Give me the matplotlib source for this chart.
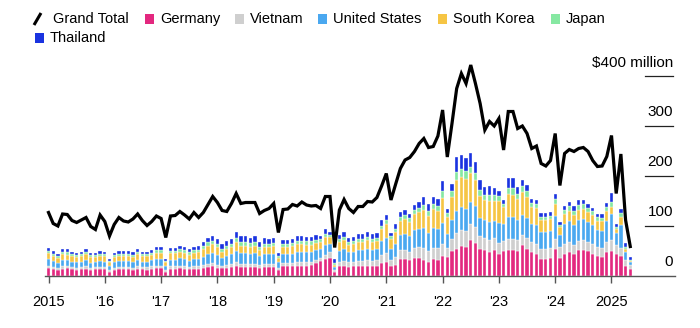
from __future__ import annotations

import matplotlib

matplotlib.use("Agg")
import matplotlib.pyplot as plt
import matplotlib.transforms as mtransforms
from matplotlib.lines import Line2D
from matplotlib.patches import Rectangle
import numpy as np

plt.rcParams["font.family"] = ["Liberation Sans", "DejaVu Sans"]

# monthly values, Jan 2015 .. May 2025, $ million
START_YEAR = 2015

grand_total = [
    127, 105, 100, 124, 123, 111, 107, 112, 117, 99, 93, 122,
    109, 80, 103, 117, 110, 108, 114, 124, 111, 101, 109, 120,
    115, 77, 120, 121, 129, 122, 114, 127, 117, 127, 143, 159,
    147, 131, 129, 145, 165, 145, 147, 147, 147, 125, 131, 135,
    145, 87, 133, 134, 143, 140, 148, 142, 140, 141, 135, 159,
    159, 57, 132, 153, 135, 127, 139, 139, 149, 148, 157, 180,
    205, 152, 184, 215, 232, 237, 249, 265, 275, 257, 259, 280,
    332, 238, 305, 375, 405, 385, 422, 385, 345, 292, 309, 300,
    315, 252, 329, 329, 295, 300, 285, 255, 260, 225, 220, 231,
    285, 181, 245, 253, 249, 255, 257, 249, 231, 219, 220, 239,
    281, 165, 244, 112, 59,
]

germany = [
    16, 14, 12, 15, 16, 14, 13, 14, 15, 13, 14, 14,
    14, 9, 13, 14, 14, 14, 13, 15, 14, 13, 15, 16,
    16, 9, 15, 15, 16, 15, 14, 15, 15, 17, 19, 20,
    17, 16, 17, 18, 21, 19, 19, 19, 19, 17, 18, 18,
    19, 12, 20, 20, 20, 21, 21, 21, 22, 26, 30, 35,
    36, 9, 20, 21, 19, 20, 20, 20, 21, 20, 21, 27,
    28, 20, 23, 35, 35, 32, 37, 37, 33, 28, 34, 33,
    40, 38, 50, 55, 60, 58, 72, 66, 55, 52, 48, 52,
    45, 50, 53, 52, 50, 62, 55, 48, 45, 35, 35, 36,
    55, 37, 45, 48, 44, 52, 52, 50, 45, 40, 38, 48,
    50, 45, 40, 21, 14,
]

vietnam = [
    5, 5, 4, 5, 4, 4, 4, 5, 5, 4, 4, 5,
    4, 3, 4, 5, 4, 5, 4, 5, 4, 5, 5, 5,
    5, 3, 5, 5, 5, 5, 4, 5, 5, 5, 6, 6,
    6, 5, 6, 6, 7, 6, 6, 6, 6, 5, 6, 6,
    6, 4, 7, 6, 6, 7, 7, 7, 7, 7, 7, 8,
    12, 4, 9, 10, 9, 9, 10, 10, 11, 10, 11, 15,
    18, 13, 15, 17, 18, 17, 20, 21, 23, 22, 23, 23,
    25, 18, 25, 32, 33, 32, 33, 32, 26, 25, 25, 24,
    22, 20, 22, 22, 22, 20, 22, 20, 20, 20, 20, 20,
    20, 22, 19, 20, 19, 19, 20, 19, 19, 18, 18, 20,
    22, 17, 17, 11, 8,
]

united_states = [
    13, 11, 10, 12, 12, 11, 11, 10, 12, 10, 10, 11,
    11, 8, 11, 11, 12, 11, 11, 12, 11, 11, 12, 13,
    13, 8, 13, 13, 15, 14, 13, 14, 14, 17, 19, 20,
    20, 16, 18, 20, 23, 21, 21, 20, 21, 18, 20, 20,
    20, 12, 18, 19, 19, 21, 21, 20, 20, 20, 18, 20,
    16, 6, 22, 23, 20, 20, 22, 22, 23, 22, 22, 28,
    31, 22, 27, 31, 32, 31, 35, 37, 40, 37, 40, 39,
    42, 29, 38, 44, 45, 45, 44, 42, 36, 35, 36, 35,
    40, 35, 44, 44, 40, 40, 40, 36, 37, 34, 34, 35,
    45, 23, 40, 42, 40, 41, 42, 40, 38, 35, 35, 42,
    53, 25, 45, 17, 6,
]

south_korea = [
    12, 11, 10, 12, 11, 11, 10, 11, 12, 11, 10, 11,
    11, 8, 10, 11, 11, 11, 11, 12, 11, 11, 11, 13,
    13, 8, 13, 13, 13, 13, 12, 13, 14, 15, 17, 18,
    15, 12, 14, 14, 17, 15, 15, 14, 15, 13, 14, 14,
    15, 9, 14, 14, 15, 15, 15, 15, 14, 14, 13, 15,
    14, 4, 17, 18, 15, 16, 17, 17, 18, 17, 17, 24,
    27, 19, 23, 28, 29, 28, 32, 34, 37, 34, 37, 36,
    50, 33, 45, 61, 60, 59, 57, 53, 44, 40, 42, 40,
    43, 33, 45, 45, 42, 47, 42, 34, 34, 23, 23, 23,
    25, 17, 20, 21, 20, 20, 21, 20, 20, 18, 19, 21,
    14, 8, 17, 6, 2,
]

japan = [
    5, 4, 4, 4, 5, 4, 4, 4, 4, 4, 4, 4,
    4, 3, 4, 4, 4, 4, 4, 5, 4, 4, 4, 5,
    5, 3, 5, 5, 5, 5, 5, 5, 5, 6, 7, 7,
    7, 6, 6, 7, 8, 7, 7, 7, 7, 6, 7, 7,
    6, 4, 6, 6, 6, 7, 7, 7, 7, 6, 6, 6,
    5, 4, 6, 6, 5, 6, 6, 6, 6, 6, 6, 7,
    8, 6, 7, 8, 8, 8, 8, 8, 10, 9, 10, 10,
    13, 8, 12, 17, 16, 16, 13, 13, 12, 11, 11, 11,
    10, 7, 12, 13, 11, 11, 11, 8, 8, 7, 7, 7,
    10, 4, 8, 9, 8, 10, 9, 8, 8, 7, 7, 8,
    10, 4, 8, 4, 2,
]

thailand = [
    6, 6, 4, 6, 6, 5, 5, 5, 6, 5, 5, 6,
    5, 4, 5, 5, 5, 5, 6, 6, 5, 5, 6, 6,
    6, 4, 6, 6, 7, 7, 6, 7, 7, 8, 8, 10,
    10, 9, 10, 10, 13, 12, 12, 11, 12, 9, 11, 10,
    10, 6, 8, 8, 9, 9, 9, 9, 9, 9, 7, 10,
    6, 7, 9, 10, 8, 8, 10, 10, 10, 10, 9, 11,
    10, 6, 9, 9, 10, 9, 10, 11, 15, 14, 14, 14,
    21, 9, 15, 30, 28, 27, 28, 23, 19, 16, 18, 15,
    11, 7, 20, 20, 14, 13, 12, 9, 9, 8, 8, 8,
    10, 6, 8, 9, 9, 10, 9, 8, 7, 6, 7, 8,
    17, 5, 8, 8, 6,
]

series_names = ["Germany", "Vietnam", "United States", "South Korea", "Japan", "Thailand"]
series_values = [germany, vietnam, united_states, south_korea, japan, thailand]
series_colors = ["#e3287f", "#cfcfcf", "#4aa8f0", "#f6c544", "#86e8a2", "#1a33e0"]

year_ticks = [2015, 2016, 2017, 2018, 2019, 2020, 2021, 2022, 2023, 2024, 2025]
year_labels = ["2015", "'16", "'17", "'18", "'19", "'20", "'21", "'22", "'23", "'24", "2025"]
value_ticks = [0, 100, 200, 300, 400]
value_labels = ["0", "100", "200", "300", "$400 million"]

W, H = 700, 328


def _fx(px):
    return px / W


def _fy(py):
    return 1 - py / H


def _draw_legend(fig):
    fs = 10.5
    # Grand Total: slash icon
    fig.add_artist(Line2D([_fx(34), _fx(41)], [_fy(25), _fy(13)], color="black",
                          lw=2.2, solid_capstyle="butt"))
    fig.text(_fx(53), _fy(19), "Grand Total", fontsize=fs, va="center", ha="left")
    slots = [(145, 19), (235, 19), (318, 19), (438, 19), (551, 19), (35, 38)]
    for name, color, (px, py) in zip(series_names, series_colors, slots):
        fig.add_artist(Rectangle((_fx(px), _fy(py + 4.5)), 9 / W, 9 / H,
                                 facecolor=color, edgecolor="none"))
        fig.text(_fx(px + 15), _fy(py), name, fontsize=fs, va="center", ha="left")


def main() -> None:
    months = np.arange(len(grand_total))
    x = START_YEAR + months / 12.0

    fig = plt.figure(figsize=(W / 100, H / 100), dpi=100)
    left, right, base, top = 45, 675, 276, 56
    ax = fig.add_axes([_fx(left), 1 - base / H, (right - left) / W, (base - top) / H])

    bottom = np.zeros(len(months))
    for vals, color in zip(series_values, series_colors):
        vals = np.asarray(vals, dtype=float)
        ax.bar(x, vals, width=0.7 / 12, bottom=bottom, color=color,
               edgecolor="white", linewidth=0.25, zorder=2)
        bottom += vals

    ax.plot(x, grand_total, color="black", lw=2.3, solid_joinstyle="miter", zorder=3)

    px_per_year = 56.3
    ax.set_xlim(START_YEAR - (48.5 - left) / px_per_year,
                START_YEAR + (right - 48.5) / px_per_year)
    ax.set_ylim(0, (base - top) * 2)

    for side in ("left", "right", "top"):
        ax.spines[side].set_visible(False)
    ax.spines["bottom"].set_color("#555555")
    ax.spines["bottom"].set_linewidth(1.0)
    ax.set_xticks(year_ticks)
    ax.set_xticklabels(year_labels, fontsize=10.5)
    ax.tick_params(axis="x", length=5, width=1.0, color="#555555", pad=9)
    ax.set_yticks([])

    trans = mtransforms.blended_transform_factory(ax.transAxes, ax.transData)
    lab_x = (673 - left) / (right - left)
    line_x0 = (645 - left) / (right - left)
    for v, lab in zip(value_ticks, value_labels):
        ax.text(lab_x, v + 27, lab, transform=trans, ha="right", va="center",
                fontsize=11)
        if v > 0:
            ax.plot([line_x0, lab_x], [v, v], transform=trans, color="#222222",
                    lw=0.9, clip_on=False)

    _draw_legend(fig)
    fig.savefig("out.png", dpi=100)
    plt.close(fig)


if __name__ == "__main__":
    main()
